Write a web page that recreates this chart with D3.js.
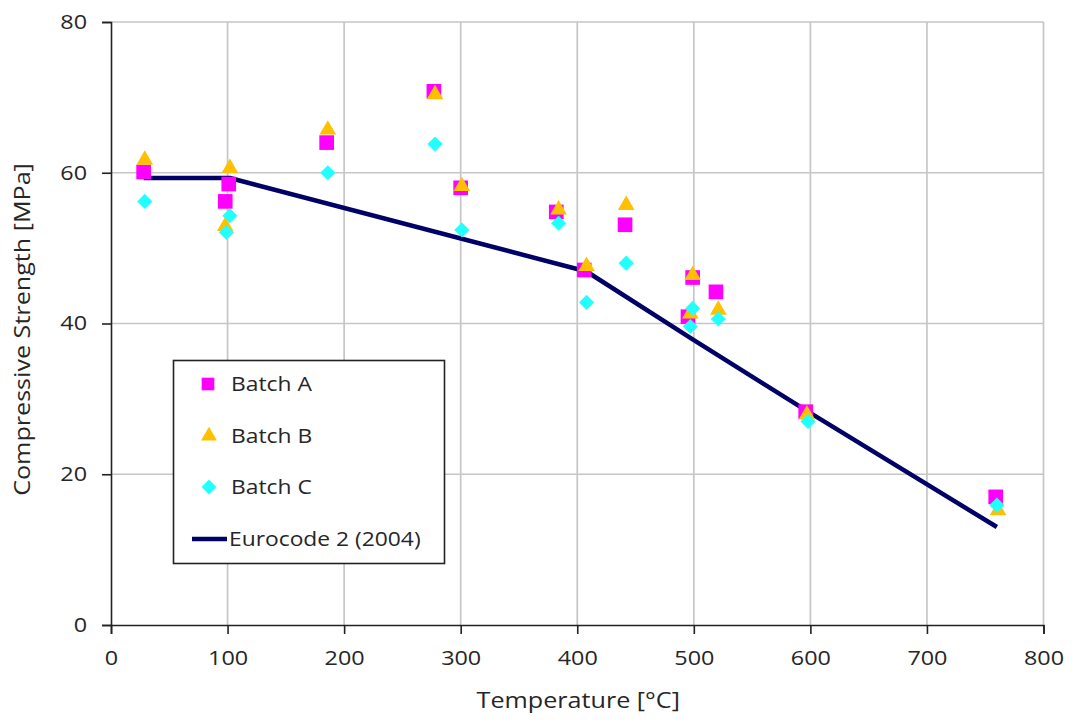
<!DOCTYPE html>
<html><head><meta charset="utf-8">
<script src="https://cdn.jsdelivr.net/npm/d3@7/dist/d3.min.js"></script>
<style>body{margin:0;background:#fff;} text{font-family:"Open Sans","Noto Sans",sans-serif;fill:#262626;}</style>
</head><body><svg id="c" width="1072" height="722"></svg>
<script>
const xTicks = [0,100,200,300,400,500,600,700,800];
const yTicks = [0,20,40,60,80];
const batchA_T = [28,98,101,185,277,300,382,406,441,495,499,519,596,759];
const batchA_S = [60.1,56.2,58.5,64.0,70.8,58.0,54.8,47.1,53.1,40.9,46.1,44.2,28.3,17.0];
const batchB_T = [29,98,102,186,278,301,384,408,442,497,499,521,597,761];
const batchB_S = [61.7,52.9,60.6,65.7,70.4,58.2,55.1,47.6,55.7,41.3,46.4,41.8,27.9,15.2];
const batchC_T = [29,99,102,186,278,301,384,408,442,497,499,521,598,760];
const batchC_S = [56.2,52.1,54.3,60.0,63.8,52.4,53.3,42.8,48.0,39.6,42.0,40.6,27.0,15.9];
const euro_T = [28,102,408,498,598,760];
const euro_S = [59.3,59.3,46.9,38.0,28.3,13.0];
const legendLabels = ["Batch A","Batch B","Batch C","Eurocode 2 (2004)"];

const S = 1.17; // horizontal stretch of text
const svg = d3.select("#c");
const L=111,R=1043.5,T=22,B=625;
const x = d3.scaleLinear().domain([0,800]).range([L,R]);
const y = d3.scaleLinear().domain([0,80]).range([B,T]);

// gridlines
svg.append("g").selectAll("line").data(xTicks.slice(1)).join("line")
  .attr("x1",d=>x(d)).attr("x2",d=>x(d)).attr("y1",T).attr("y2",B)
  .attr("stroke","#c6c6c6").attr("stroke-width",1.7);
svg.append("g").selectAll("line").data(yTicks.slice(1)).join("line")
  .attr("x1",L).attr("x2",R).attr("y1",d=>y(d)).attr("y2",d=>y(d))
  .attr("stroke","#c6c6c6").attr("stroke-width",1.7);

// axes
const xAxis = svg.append("g").attr("transform",`translate(0,${B})`)
  .call(d3.axisBottom(x).tickValues(xTicks).tickSize(9).tickPadding(17));
const yAxis = svg.append("g").attr("transform",`translate(${L},0)`)
  .call(d3.axisLeft(y).tickValues(yTicks).tickSize(9).tickPadding(15));
[xAxis,yAxis].forEach(a=>{
  a.select(".domain").attr("stroke","#222").attr("stroke-width",1.6);
  a.selectAll(".tick line").attr("stroke","#222").attr("stroke-width",1.6);
  a.selectAll(".tick text").attr("font-size",20).attr("fill","#262626")
   .style("font-family",'"Open Sans","Noto Sans",sans-serif')
   .attr("transform",`scale(${S},1)`);
});
yAxis.selectAll(".tick text").attr("x",-24/S);

// Eurocode line
const line = d3.line().x((d,i)=>x(euro_T[i])).y((d,i)=>y(euro_S[i]));
svg.append("path").datum(euro_S).attr("d",line).attr("fill","none")
  .attr("stroke","#000066").attr("stroke-width",4.5).attr("stroke-linejoin","round");

const diamondType = { draw(ctx,size){ const r=Math.sqrt(size/2); ctx.moveTo(0,-r); ctx.lineTo(r,0); ctx.lineTo(0,r); ctx.lineTo(-r,0); ctx.closePath(); } };
const sq = d3.symbol().type(d3.symbolSquare).size(215);
const tri = d3.symbol().type(d3.symbolTriangle).size(120);
const dia = d3.symbol().type(diamondType).size(115);

function series(Ts,Ss,sym,color){
  svg.append("g").selectAll("path").data(Ss).join("path")
    .attr("d",sym).attr("fill",color)
    .attr("transform",(d,i)=>`translate(${x(Ts[i])},${y(d)})`);
}
series(batchA_T,batchA_S,sq,"#ff00ff");
series(batchB_T,batchB_S,tri,"#ffc000");
series(batchC_T,batchC_S,dia,"#22ffff");

// legend
const lg = svg.append("g");
lg.append("rect").attr("x",173.5).attr("y",360.5).attr("width",271).attr("height",203)
  .attr("fill","#fff").attr("stroke","#222").attr("stroke-width",1.6);
const ly = [384,436,487,539];
lg.append("path").attr("d",d3.symbol().type(d3.symbolSquare).size(160)).attr("fill","#ff00ff")
  .attr("transform",`translate(208,${ly[0]})`);
lg.append("path").attr("d",d3.symbol().type(d3.symbolTriangle).size(110)).attr("fill","#ffc000")
  .attr("transform",`translate(209,${ly[1]})`);
lg.append("path").attr("d",d3.symbol().type(diamondType).size(110)).attr("fill","#22ffff")
  .attr("transform",`translate(209,${ly[2]})`);
lg.append("line").attr("x1",192).attr("x2",227).attr("y1",ly[3]).attr("y2",ly[3])
  .attr("stroke","#000066").attr("stroke-width",4.5);
lg.selectAll("text").data(legendLabels).join("text")
  .attr("transform",(d,i)=>`translate(${i<3?231:229},${ly[i]}) scale(${S},1)`)
  .attr("dy","0.36em").attr("font-size",19.5).text(d=>d);

// titles
svg.append("text").attr("transform",`translate(${(L+R)/2+1},${708}) scale(${S},1)`)
  .attr("text-anchor","middle").attr("font-size",21.5).text("Temperature [°C]");
svg.append("text").attr("transform",`translate(30,${(T+B)/2+6}) rotate(-90) scale(${S},1)`)
  .attr("text-anchor","middle").attr("font-size",21.5).text("Compressive Strength [MPa]");
</script></body></html>
